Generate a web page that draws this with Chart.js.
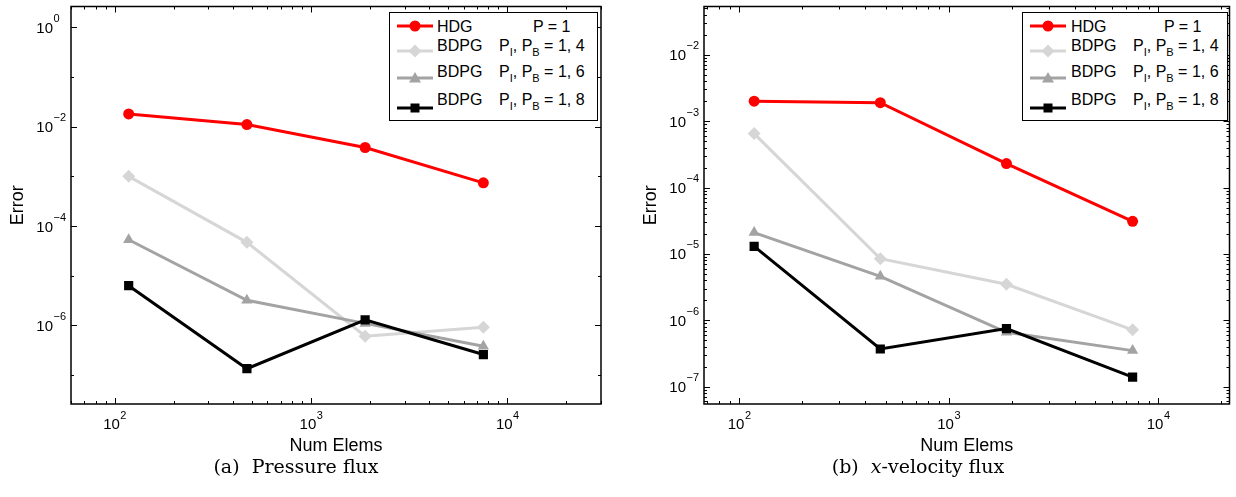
<!DOCTYPE html>
<html>
<head>
<meta charset="utf-8">
<script src="https://cdn.jsdelivr.net/npm/chart.js@4.4.0/dist/chart.umd.min.js"></script>
<style>
  body { margin: 0; background: #fff; width: 1236px; height: 497px; position: relative; overflow: hidden;
         font-family: "Liberation Sans", Arial, sans-serif; color: #000; }
  .panel { position: absolute; top: 0; }
  .legend { position: absolute; top: 12px; height: 107px; border: 1px solid #000; background: #fff; font-size: 16px; }
  .legend svg { position: absolute; left: 7px; }
  .legend .t { position: absolute; line-height: 16px; white-space: nowrap; }
  .legend .s { position: relative; top: 5px; font-size: 11px; }
  .caption { position: absolute; top: 455px; width: 400px; text-align: center;
             font-family: "DejaVu Serif", "Liberation Serif", serif; font-size: 19px; }
</style>
</head>
<body>
<div class="panel" style="left:0"><canvas id="chartA" width="618" height="460"></canvas></div>
<div class="panel" style="left:633px"><canvas id="chartB" width="603" height="460"></canvas></div>
<div class="legend" id="legA" style="left:389px; width:207px"></div>
<div class="legend" id="legB" style="left:1022px; width:204px"></div>
<div class="caption" style="left:96px">(a)&nbsp; Pressure flux</div>
<div class="caption" style="left:718px">(b)&nbsp; <i>x</i>-velocity flux</div>

<script>
// mesh sizes (number of elements)
var numElems = [118, 472, 1888, 7552];

// (a) pressure flux error
var pressHDG   = [1.8e-2, 1.1e-2, 3.8e-3, 7.4e-4];
var pressBDPG4 = [1.0e-3, 4.7e-5, 6.1e-7, 9.2e-7];
var pressBDPG6 = [5.3e-5, 3.2e-6, 1.1e-6, 3.8e-7];
var pressBDPG8 = [6.3e-6, 1.35e-7, 1.3e-6, 2.6e-7];

// (b) x-velocity flux error
var velHDG   = [2.0e-3, 1.9e-3, 2.3e-4, 3.1e-5];
var velBDPG4 = [6.5e-4, 8.5e-6, 3.5e-6, 7.2e-7];
var velBDPG6 = [2.1e-5, 4.6e-6, 6.6e-7, 3.5e-7];
var velBDPG8 = [1.3e-5, 3.7e-7, 7.5e-7, 1.4e-7];

var xTicks = [1e2, 1e3, 1e4];
var pressTicks = [1e0, 1e-2, 1e-4, 1e-6];
var velTicks = [1e-2, 1e-3, 1e-4, 1e-5, 1e-6, 1e-7];

var seriesNames = ['HDG', 'BDPG', 'BDPG', 'BDPG'];
var seriesParams = ['P = 1',
  'P<span class="s">I</span>, P<span class="s">B</span> = 1, 4',
  'P<span class="s">I</span>, P<span class="s">B</span> = 1, 6',
  'P<span class="s">I</span>, P<span class="s">B</span> = 1, 8'];
var seriesColors = ['#ff0000', '#d6d6d6', '#a3a3a3', '#000000'];
var seriesMarkers = ['circle', 'rectRot', 'triangle', 'rect'];
var markerSizes = [5.5, 6.5, 6.5, 6.5];

var FAMILY = '"Liberation Sans", Arial, sans-serif';

function expText(v) {
  var e = Math.round(Math.log10(v));
  return e < 0 ? '\u2212' + (-e) : String(e);
}

// matlab-ish box with inward ticks on all four sides, plus 10^n labels
var boxTicks = {
  id: 'boxTicks',
  afterDatasetsDraw: function (chart, args, opts) {
    var a = chart.chartArea, ctx = chart.ctx;
    var xs = chart.scales.x, ys = chart.scales.y;
    ctx.save();
    ctx.strokeStyle = '#000';
    ctx.lineWidth = 1;
    function logVals(min, max, full) {
      var out = [];
      for (var d = Math.floor(Math.log10(min)); d <= Math.ceil(Math.log10(max)); d++) {
        for (var k = 1; k <= (full ? 9 : 1); k++) {
          var v = k * Math.pow(10, d);
          if (v >= min * 0.999 && v <= max * 1.001) out.push(v);
        }
      }
      return out;
    }
    function isMajor(list, v) {
      return list.some(function (t) { return Math.abs(Math.log10(t) - Math.log10(v)) < 1e-6; });
    }
    logVals(xs.min, xs.max, true).forEach(function (v) {
      var len = isMajor(xTicks, v) ? 6 : 3;
      var px = Math.round(xs.getPixelForValue(v)) + 0.5;
      ctx.beginPath();
      ctx.moveTo(px, a.bottom); ctx.lineTo(px, a.bottom - len);
      ctx.moveTo(px, a.top); ctx.lineTo(px, a.top + len);
      ctx.stroke();
    });
    logVals(ys.min, ys.max, opts.fullMinorY).forEach(function (v) {
      var len = isMajor(opts.yTicks, v) ? 6 : 3;
      var py = Math.round(ys.getPixelForValue(v)) + 0.5;
      ctx.beginPath();
      ctx.moveTo(a.left, py); ctx.lineTo(a.left + len, py);
      ctx.moveTo(a.right, py); ctx.lineTo(a.right - len, py);
      ctx.stroke();
    });
    ctx.lineWidth = 1.5;
    ctx.strokeRect(a.left, a.top, a.right - a.left, a.bottom - a.top);

    // tick labels 10^n
    ctx.fillStyle = '#000';
    ctx.textBaseline = 'alphabetic';
    xTicks.forEach(function (v) {
      var px = xs.getPixelForValue(v);
      ctx.font = '15px ' + FAMILY;
      var w1 = ctx.measureText('10').width;
      ctx.font = '11px ' + FAMILY;
      var w2 = ctx.measureText(expText(v)).width;
      var x0 = px - (w1 + w2) / 2;
      ctx.textAlign = 'left';
      ctx.font = '15px ' + FAMILY;
      ctx.fillText('10', x0, a.bottom + 25);
      ctx.font = '11px ' + FAMILY;
      ctx.fillText(expText(v), x0 + w1 + 0.5, a.bottom + 15);
    });
    opts.yTicks.forEach(function (v) {
      var py = ys.getPixelForValue(v);
      ctx.font = '15px ' + FAMILY;
      ctx.textAlign = 'right';
      ctx.fillText('10', a.left - 18, py + 5.5);
      ctx.font = '11px ' + FAMILY;
      ctx.textAlign = 'left';
      ctx.fillText(expText(v), a.left - 17.5, py - 5.5);
    });
    ctx.restore();
  }
};

function makeDatasets(ys) {
  return ys.map(function (vals, i) {
    return {
      label: seriesNames[i],
      data: numElems.map(function (n, j) { return {x: n, y: vals[j]}; }),
      borderColor: seriesColors[i],
      backgroundColor: seriesColors[i],
      borderWidth: 3,
      pointStyle: seriesMarkers[i],
      pointRadius: markerSizes[i],
      pointBorderWidth: 0,
      order: ys.length - i
    };
  });
}

function makeChart(id, ys, yMin, yMax, yTicks, fullMinorY, xMin, xMax, padRight) {
  return new Chart(document.getElementById(id), {
    type: 'line',
    data: {datasets: makeDatasets(ys)},
    plugins: [boxTicks],
    options: {
      responsive: false,
      animation: false,
      devicePixelRatio: 1,
      layout: {padding: {top: 6, right: padRight, left: 0, bottom: 0}},
      plugins: {
        legend: {display: false},
        tooltip: {enabled: false},
        boxTicks: {yTicks: yTicks, fullMinorY: fullMinorY}
      },
      scales: {
        x: {
          type: 'logarithmic',
          min: xMin, max: xMax,
          grid: {display: false, drawTicks: false},
          border: {display: false},
          afterFit: function (s) { s.height = 56; },
          afterBuildTicks: function (s) { s.ticks = xTicks.map(function (v) { return {value: v}; }); },
          ticks: {display: false},
          title: {display: true, text: 'Num Elems', color: '#000',
                  font: {family: FAMILY, size: 18}, padding: {top: 0, bottom: 3}}
        },
        y: {
          type: 'logarithmic',
          min: yMin, max: yMax,
          grid: {display: false, drawTicks: false},
          border: {display: false},
          afterFit: function (s) { s.width = 71; },
          afterBuildTicks: function (s) { s.ticks = yTicks.map(function (v) { return {value: v}; }); },
          ticks: {display: false},
          title: {display: true, text: 'Error', color: '#000',
                  font: {family: FAMILY, size: 18}, padding: {top: 7, bottom: 0}}
        }
      }
    }
  });
}

makeChart('chartA', [pressHDG, pressBDPG4, pressBDPG6, pressBDPG8],
  Math.pow(10, -7.58), Math.pow(10, 0.416), pressTicks, false, 60, 30000, 17);
makeChart('chartB', [velHDG, velBDPG4, velBDPG6, velBDPG8],
  Math.pow(10, -7.26), Math.pow(10, -1.273), velTicks, true, 68, 21900, 2);

// legends
var lineY = [13, 37.5, 65, 95];
var textY = [14, 33, 59, 87];
function buildLegend(id, nameX, pX, paramX) {
  var el = document.getElementById(id);
  var html = '';
  for (var i = 0; i < seriesNames.length; i++) {
    var c = seriesColors[i], mk;
    if (seriesMarkers[i] === 'circle') mk = '<circle cx="18" cy="7" r="5.5" fill="' + c + '"/>';
    else if (seriesMarkers[i] === 'rectRot') mk = '<polygon points="18,0.5 24.5,7 18,13.5 11.5,7" fill="' + c + '"/>';
    else if (seriesMarkers[i] === 'triangle') mk = '<polygon points="18,1 24,11.5 12,11.5" fill="' + c + '"/>';
    else mk = '<rect x="13.5" y="2.5" width="9" height="9" fill="' + c + '"/>';
    html += '<svg width="36" height="14" style="top:' + (lineY[i] - 7) + 'px">' +
      '<line x1="0" y1="7" x2="36" y2="7" stroke="' + c + '" stroke-width="3"/>' + mk + '</svg>';
    html += '<span class="t" style="left:' + nameX + 'px; top:' + (textY[i] - 8) + 'px">' + seriesNames[i] + '</span>';
    html += '<span class="t" style="left:' + (i === 0 ? pX : paramX) + 'px; top:' + (textY[i] - 8) + 'px">' + seriesParams[i] + '</span>';
  }
  el.innerHTML = html;
}
buildLegend('legA', 47, 143, 109);
buildLegend('legB', 48, 141, 110);
</script>
</body>
</html>
